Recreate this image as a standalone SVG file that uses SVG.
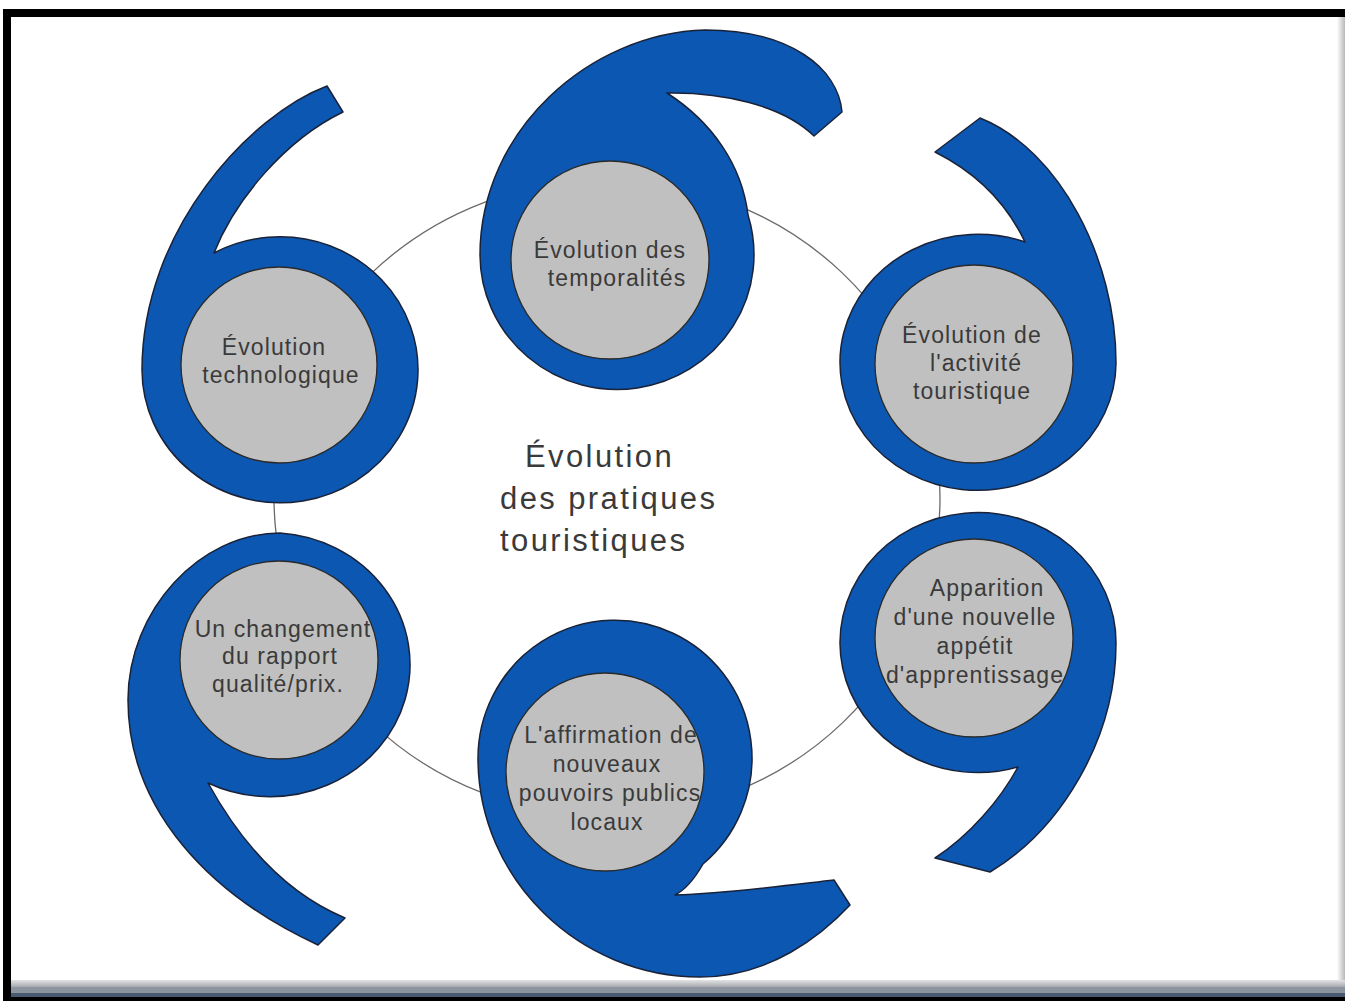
<svg xmlns="http://www.w3.org/2000/svg" width="1345" height="1001" viewBox="0 0 1345 1001">
<defs>
<linearGradient id="rg" x1="0" y1="0" x2="1" y2="0"><stop offset="0" stop-color="#ffffff"/><stop offset="1" stop-color="#b8b8b8"/></linearGradient>
<linearGradient id="bg" x1="0" y1="0" x2="0" y2="1"><stop offset="0" stop-color="#e4e4e4"/><stop offset="1" stop-color="#a4a8ae"/></linearGradient>
</defs>
<style>
.blue{fill:#0b57b2;stroke:#1a2238;stroke-width:1.5;stroke-linejoin:round}
.core{fill:#c0c0c0;stroke:#2a2a2a;stroke-width:1.3}
.t{font-family:"Liberation Sans",Arial,sans-serif;font-size:23px;fill:#3a3a3a;text-anchor:middle;letter-spacing:1.1px}
.c{font-family:"Liberation Sans",Arial,sans-serif;font-size:31px;fill:#3a3a3a;letter-spacing:2.4px}
</style>
<rect width="1345" height="1001" fill="#ffffff"/>
<rect x="1337" y="17" width="8" height="963" fill="url(#rg)"/>
<g id="connectors">
<ellipse cx="607" cy="498" rx="333" ry="318" fill="none" stroke="#6a6a6a" stroke-width="1.3"/>
</g>
<g id="node-technologique">
<path class="blue" d="M327,86 C250,115 142,230 142,370 A138,133 0 1 0 214,253 C235,200 285,140 343,112 Z"/>
<circle class="core" cx="279" cy="365" r="98"/>
<text class="t" x="274" y="355">Évolution</text>
<text class="t" x="281" y="383">technologique</text>
</g>
<g id="node-temporalites">
<path class="blue" d="M842,112 C838,68 790,30 705,30 C590,33 480,130 480,255 A137,135 0 1 0 748,215 C742,165 712,122 667,93 C722,92 782,105 814,136 Z"/>
<circle class="core" cx="610" cy="260" r="99"/>
<text class="t" x="610" y="258">Évolution des</text>
<text class="t" x="617" y="286">temporalités</text>
</g>
<g id="node-activite">
<path class="blue" d="M935,152 L980,118 C1060,150 1116,260 1116,363 A138,128 0 1 1 1025,242 C1005,200 975,172 935,152 Z"/>
<circle class="core" cx="974" cy="364" r="99"/>
<text class="t" x="972" y="343">Évolution de</text>
<text class="t" x="976" y="371">l'activité</text>
<text class="t" x="972" y="399">touristique</text>
</g>
<g id="node-qualite-prix">
<path class="blue" d="M318,945 C210,895 128,810 128,700 C128,610 200,533 280,533 A140,132 0 1 1 208,783 C245,850 290,895 345,918 Z"/>
<circle class="core" cx="279" cy="660" r="99"/>
<text class="t" x="283" y="637">Un changement</text>
<text class="t" x="280" y="664">du rapport</text>
<text class="t" x="278" y="692">qualité/prix.</text>
</g>
<g id="node-pouvoirs-publics">
<path class="blue" d="M850,905 C822,935 770,977 700,977 C580,977 478,880 478,758 A137,138 0 1 1 703,864 C695,878 685,890 675,895 C730,893 790,885 834,880 Z"/>
<circle class="core" cx="605" cy="772" r="99"/>
<text class="t" x="611" y="743">L'affirmation de</text>
<text class="t" x="607" y="772">nouveaux</text>
<text class="t" x="610" y="801">pouvoirs publics</text>
<text class="t" x="607" y="830">locaux</text>
</g>
<g id="node-apprentissage">
<path class="blue" d="M990,872 C1060,830 1116,740 1116,643 A138,130 0 1 0 1018,767 C1000,800 970,835 935,858 Z"/>
<circle class="core" cx="974" cy="638" r="99"/>
<text class="t" x="987" y="596">Apparition</text>
<text class="t" x="975" y="625">d'une nouvelle</text>
<text class="t" x="975" y="654">appétit</text>
<text class="t" x="975" y="683">d'apprentissage</text>
</g>
<g id="center-label">
<text class="c" x="525" y="467">Évolution</text>
<text class="c" x="500" y="509">des pratiques</text>
<text class="c" x="500" y="551">touristiques</text>
</g>
<g id="frame">
<rect x="3" y="9" width="1342" height="8" fill="#000000"/>
<rect x="3" y="9" width="8" height="992" fill="#000000"/>
<rect x="11" y="980" width="1334" height="7" fill="url(#bg)"/>
<rect x="11" y="987" width="1334" height="6" fill="#8c949f"/>
<rect x="11" y="993" width="1334" height="4" fill="#4a5a70"/>
<rect x="3" y="997" width="1342" height="4" fill="#000000"/>
</g>
</svg>
